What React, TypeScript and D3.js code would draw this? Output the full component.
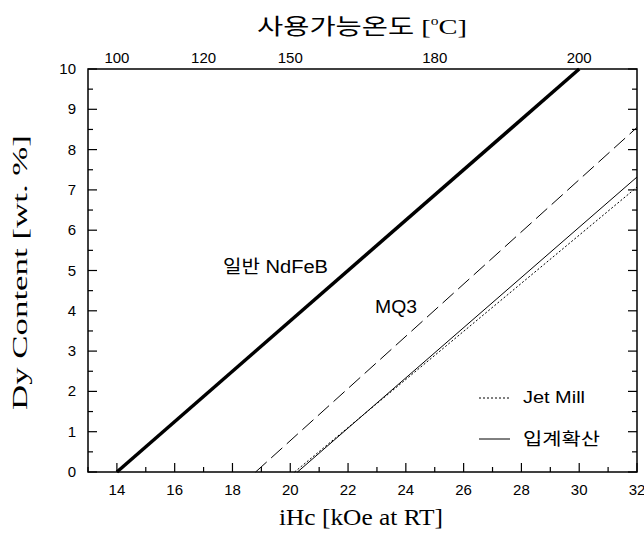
import React from 'react'
import * as d3 from 'd3'

const width = 644
const height = 535
const margin = { left: 88, right: 7, top: 69, bottom: 63 }

// iHc (kOe) vs Dy content (wt.%)
const seriesNames = ['일반 NdFeB', 'MQ3', 'Jet Mill', '입계확산']
const ihcStart = [14, 18.8, 20.15, 20.25]
const ihcEnd = [30, 32, 32, 32]
const dyStart = [0, 0, 0, 0]
const dyEnd = [10, 8.55, 7.07, 7.32]
const strokeWidths = [3.5, 1, 1, 1]
const dashes = ['none', '15,6', '2,2', 'none']

const xMajor = [14, 16, 18, 20, 22, 24, 26, 28, 30, 32]
const xMinor = [13, 15, 17, 19, 21, 23, 25, 27, 29, 31]
const yMajor = [0, 1, 2, 3, 4, 5, 6, 7, 8, 9, 10]
const yMinor = [0.5, 1.5, 2.5, 3.5, 4.5, 5.5, 6.5, 7.5, 8.5, 9.5]

// temperature labels on the top axis, at their iHc positions
const tempAt = [14, 17, 20, 25, 30]
const tempLabels = ['100', '120', '150', '180', '200']

const sans = '"Liberation Sans", Arial, "Noto Sans CJK KR", sans-serif'
const serif = '"Liberation Serif", "Times New Roman", "Noto Sans CJK KR", serif'

export default function App() {
  const x = d3.scaleLinear().domain([13, 32]).range([margin.left, width - margin.right])
  const y = d3.scaleLinear().domain([0, 10]).range([height - margin.bottom, margin.top])
  const line = d3.line<[number, number]>().x(d => x(d[0])).y(d => y(d[1]))

  const x0 = x(13), x1 = x(32), y0 = y(0), y1 = y(10)

  return (
    <svg width={width} height={height} style={{ position: 'absolute', left: 0, top: 0, background: '#fff' }}>
      <rect x={0} y={0} width={width} height={height} fill="#fff" />

      {/* data lines */}
      <g fill="none" stroke="#000">
        {seriesNames.map((n, i) => (
          <path
            key={n}
            d={line([[ihcStart[i], dyStart[i]], [ihcEnd[i], dyEnd[i]]]) || ''}
            strokeWidth={strokeWidths[i]}
            strokeDasharray={dashes[i]}
          />
        ))}
      </g>

      {/* frame */}
      <rect x={x0} y={y1} width={x1 - x0} height={y0 - y1} fill="none" stroke="#000" strokeWidth={1.5} />

      {/* ticks, all pointing inward */}
      <g stroke="#000" strokeWidth={1.2}>
        {xMajor.map(v => <line key={'xm' + v} x1={x(v)} x2={x(v)} y1={y0} y2={y0 - 9} />)}
        {xMinor.map(v => <line key={'xn' + v} x1={x(v)} x2={x(v)} y1={y0} y2={y0 - 5} />)}
        {yMajor.map(v => <line key={'yl' + v} x1={x0} x2={x0 + 9} y1={y(v)} y2={y(v)} />)}
        {yMinor.map(v => <line key={'yln' + v} x1={x0} x2={x0 + 5} y1={y(v)} y2={y(v)} />)}
        {yMajor.map(v => <line key={'yr' + v} x1={x1} x2={x1 - 9} y1={y(v)} y2={y(v)} />)}
        {yMinor.map(v => <line key={'yrn' + v} x1={x1} x2={x1 - 5} y1={y(v)} y2={y(v)} />)}
      </g>

      {/* tick labels */}
      <g fontFamily={sans} fontSize={15} fill="#000">
        {xMajor.map(v => (
          <text key={'xt' + v} x={x(v)} y={y0 + 23} textAnchor="middle">{v}</text>
        ))}
        {yMajor.map(v => (
          <text key={'yt' + v} x={x0 - 12} y={y(v) + 5} textAnchor="end">{v}</text>
        ))}
        {tempAt.map((v, i) => (
          <text key={'tt' + v} x={x(v)} y={y1 - 6} textAnchor="middle">{tempLabels[i]}</text>
        ))}
      </g>

      {/* axis titles */}
      <text x={279} y={525} fontFamily={serif} fontSize={23} textLength={164} lengthAdjust="spacingAndGlyphs">
        iHc [kOe at RT]
      </text>
      <text
        transform={`translate(27,410) rotate(-90)`}
        fontFamily={serif}
        fontSize={20}
        textLength={275}
        lengthAdjust="spacingAndGlyphs"
      >
        Dy Content [wt. %]
      </text>
      <text x={257} y={34} fontFamily={serif} fontSize={22} textLength={210} lengthAdjust="spacingAndGlyphs">
        사용가능온도 [<tspan fontSize={12} dy={-9}>o</tspan><tspan dy={9}>C]</tspan>
      </text>

      {/* in-plot labels */}
      <g fontFamily={sans} fill="#000">
        <text x={223} y={273} fontSize={18} textLength={105} lengthAdjust="spacingAndGlyphs">{seriesNames[0]}</text>
        <text x={375} y={313} fontSize={19} textLength={42} lengthAdjust="spacingAndGlyphs">{seriesNames[1]}</text>
      </g>

      {/* legend */}
      <g fontFamily={sans} fontSize={16} fill="#000">
        <line x1={479} x2={510} y1={398} y2={398} stroke="#000" strokeDasharray={dashes[2]} />
        <text x={523} y={403} textLength={62} lengthAdjust="spacingAndGlyphs">{seriesNames[2]}</text>
        <line x1={479} x2={510} y1={439} y2={439} stroke="#000" />
        <text x={523} y={445} fontSize={17} textLength={77} lengthAdjust="spacingAndGlyphs">{seriesNames[3]}</text>
      </g>
    </svg>
  )
}
